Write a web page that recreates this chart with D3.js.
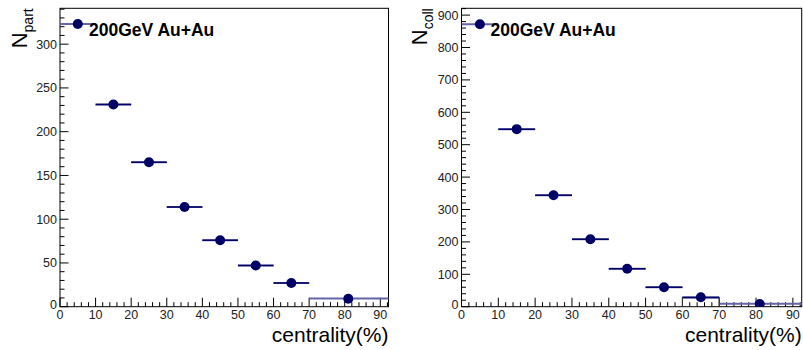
<!DOCTYPE html>
<html>
<head>
<meta charset="utf-8">
<script src="https://cdn.jsdelivr.net/npm/d3@7"></script>
<style>
  body { margin: 0; background: #fff; }
  svg { display: block; font-family: "Liberation Sans", Arial, sans-serif; }
</style>
</head>
<body>
<svg id="chart" width="803" height="350"></svg>
<script>
// centrality bins (%)
const binLow = [0, 10, 20, 30, 40, 50, 60, 70];
const binHigh = [10, 20, 30, 40, 50, 60, 70, 100];
const binCenter = [5, 15, 25, 35, 45, 55, 65, 81];

// values
const nPart = [323, 231, 165, 114, 76, 47, 27, 9];
const nColl = [872, 548, 344, 208, 117, 60, 29, 8.5];
const nPartHist = [323, 231, 165, 114, 76, 47, 27, 9.5];
const nCollHist = [872, 548, 344, 208, 117, 60, 28, 9];
const nCollBoxBins = [6]; // bin drawn as an outlined box

const xTicks = [0, 10, 20, 30, 40, 50, 60, 70, 80, 90];

const svg = d3.select('#chart');
const navy = '#000066';
const histColor = '#6464a8';

const panels = [
  { id: 'part', left: 60, right: 388.5, top: 8.3, bottom: 306.7, xMax: 92.3, yMax: 341,
    yMajor: 50, yMinor: 10, vals: nPart, hist: nPartHist, boxes: [],
    title: 'N', sub: 'part', titleX: 27 },
  { id: 'coll', left: 461.5, right: 801.7, top: 8.3, bottom: 306.7, xMax: 92.4, yMax: 921,
    yMajor: 100, yMinor: 20, vals: nColl, hist: nCollHist, boxes: nCollBoxBins,
    title: 'N', sub: 'coll', titleX: 427 }
];

panels.forEach(p => {
  const x = d3.scaleLinear().domain([0, p.xMax]).range([p.left, p.right]);
  const y = d3.scaleLinear().domain([0, p.yMax]).range([p.bottom, p.top]);
  const g = svg.append('g');

  g.append('clipPath').attr('id', 'clip-' + p.id)
    .append('rect')
    .attr('x', p.left).attr('y', p.top)
    .attr('width', p.right - p.left).attr('height', p.bottom - p.top);

  // frame
  g.append('rect')
    .attr('x', p.left).attr('y', p.top)
    .attr('width', p.right - p.left).attr('height', p.bottom - p.top)
    .attr('fill', 'none').attr('stroke', '#000').attr('stroke-width', 1);

  // x ticks (inside, pointing up)
  const xMinor = d3.range(0, p.xMax, 2);
  g.selectAll('.xt')
    .data(xMinor)
    .enter()
    .append('line')
    .attr('x1', d => x(d)).attr('x2', d => x(d))
    .attr('y1', p.bottom)
    .attr('y2', d => p.bottom - (d % 10 === 0 ? 9 : 4.5))
    .attr('stroke', '#000').attr('stroke-width', 1);

  g.selectAll('.xl')
    .data(xTicks)
    .enter()
    .append('text')
    .attr('x', d => x(d)).attr('y', p.bottom + 12)
    .attr('text-anchor', 'middle')
    .attr('font-size', 12.5).attr('fill', '#222')
    .text(d => d);

  // y ticks
  const yMinor = d3.range(0, p.yMax, p.yMinor);
  g.selectAll('.yt')
    .data(yMinor)
    .enter()
    .append('line')
    .attr('y1', d => y(d)).attr('y2', d => y(d))
    .attr('x1', p.left)
    .attr('x2', d => p.left + (d % p.yMajor === 0 ? 8.5 : 4.5))
    .attr('stroke', '#000').attr('stroke-width', 1);

  const yMajor = d3.range(0, p.yMax, p.yMajor);
  g.selectAll('.yl')
    .data(yMajor)
    .enter()
    .append('text')
    .attr('x', p.left - 3).attr('y', d => y(d) + (d === 0 ? 2 : 4.5))
    .attr('text-anchor', 'end')
    .attr('font-size', 12.5).attr('fill', '#222')
    .text(d => d);

  const plot = g.append('g').attr('clip-path', `url(#clip-${p.id})`);

  // histogram tops
  plot.selectAll('.hist')
    .data(p.hist)
    .enter()
    .append('line')
    .attr('x1', (d, i) => x(binLow[i])).attr('x2', (d, i) => x(binHigh[i]))
    .attr('y1', d => y(d)).attr('y2', d => y(d))
    .attr('stroke', histColor).attr('stroke-width', 2);

  // outlined bin boxes
  plot.selectAll('.box')
    .data(p.boxes)
    .enter()
    .append('path')
    .attr('d', i => `M${x(binLow[i])},${y(0)}V${y(p.hist[i])}H${x(binHigh[i])}V${y(0)}`)
    .attr('fill', 'none').attr('stroke', '#333').attr('stroke-width', 1);

  // horizontal error bars (bin width), skipping the wide last bin
  plot.selectAll('.err')
    .data(p.vals.slice(1, -1))
    .enter()
    .append('line')
    .attr('x1', (d, i) => x(binLow[i + 1])).attr('x2', (d, i) => x(binHigh[i + 1]))
    .attr('y1', d => y(d)).attr('y2', d => y(d))
    .attr('stroke', navy).attr('stroke-width', 1.5);

  // markers
  plot.selectAll('.pt')
    .data(p.vals)
    .enter()
    .append('circle')
    .attr('cx', (d, i) => x(binCenter[i]))
    .attr('cy', d => y(d))
    .attr('r', 5)
    .attr('fill', navy);

  // label
  g.append('text')
    .attr('x', p.left + 29).attr('y', 36)
    .attr('font-size', 17.5).attr('font-weight', 'bold').attr('fill', '#000')
    .text('200GeV Au+Au');

  // x title
  g.append('text')
    .attr('x', p.right).attr('y', 342)
    .attr('text-anchor', 'end')
    .attr('font-size', 21).attr('fill', '#000')
    .text('centrality(%)');

  // y title
  const yt = g.append('text')
    .attr('transform', `translate(${p.titleX}, ${p.top}) rotate(-90)`)
    .attr('text-anchor', 'end')
    .attr('fill', '#000');
  yt.append('tspan').attr('font-size', 22).text(p.title);
  yt.append('tspan').attr('font-size', 14).attr('dy', 6).text(p.sub);
});
</script>
</body>
</html>
